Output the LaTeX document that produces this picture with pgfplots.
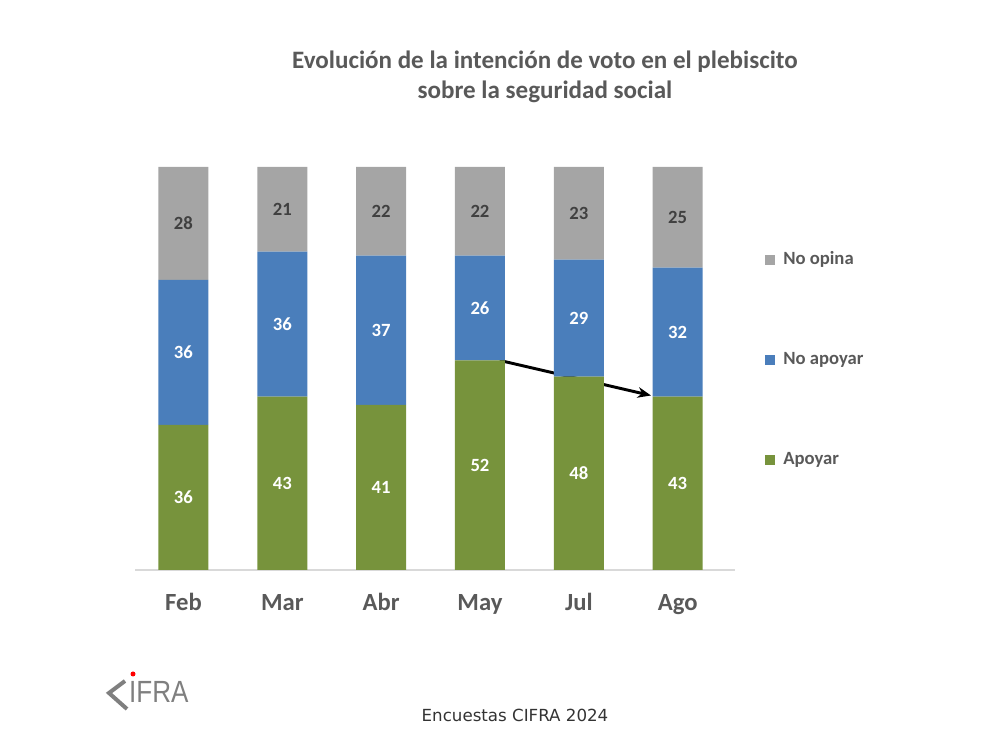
\documentclass[border=0pt]{standalone}
\usepackage{pgfplots}
\pgfplotsset{compat=1.18}
\usepackage{fontspec}
\setmainfont{Carlito}
\newfontfamily\dejavu{DejaVu Sans}
\newfontfamily\libsans{Liberation Sans}
\usetikzlibrary{arrows.meta}
\definecolor{cgray}{HTML}{A5A5A5}
\definecolor{cblue}{HTML}{4A7EBB}
\definecolor{cgreen}{HTML}{77933C}
\definecolor{ctext}{HTML}{595959}
\definecolor{cdark}{HTML}{404040}
\definecolor{clogo}{HTML}{7F7F7F}

\pgfplotsset{
  seglabels/.style={
    nodes near coords={\pgfplotspointmeta},
    point meta=explicit symbolic,
    every node near coord/.append style={anchor=center,
      font=\bfseries\fontsize{14}{16}\selectfont, text=#1}
  }
}

\begin{document}
\begin{tikzpicture}[x=0.75pt,y=0.75pt]
\path[use as bounding box] (0,0) rectangle (1000,752);
\begin{axis}[
  at={(101.25pt,136.5pt)}, anchor=south west,
  scale only axis, width=450pt, height=302.25pt,
  xmin=-0.49, xmax=5.58, ymin=0, ymax=100,
  ybar stacked, bar width=37.5pt,
  axis y line=none, axis x line*=bottom,
  x axis line style={draw=black!15, line width=1pt, -},
  major tick length=0pt,
  xtick={0,1,2,3,4,5},
  xticklabels={Feb,Mar,Abr,May,Jul,Ago},
  xticklabel style={anchor=base, yshift=-30.75pt, font=\bfseries\fontsize{18.5}{20}\selectfont, text=ctext},
  ytick=\empty,
  clip=false,
  reverse legend,
  legend cell align=left,
  legend image code/.code={\fill[#1] (0pt,-3.75pt) rectangle (7.5pt,3.75pt);},
  legend style={at={(1.05,0.522)}, anchor=west, draw=none, fill=none,
    inner sep=0pt, row sep=64pt, column sep=6pt,
    nodes={inner sep=0pt, text height=9pt, text depth=2pt, text=ctext,
      font=\bfseries\fontsize{14}{16}\selectfont}},
]
\addplot[fill=cgreen, draw=none, seglabels=white] coordinates
  {(0,36)[36] (1,43)[43] (2,41)[41] (3,52)[52] (4,48)[48] (5,43)[43]};
\addlegendentry{Apoyar}
\addplot[fill=cblue, draw=none, seglabels=white] coordinates
  {(0,36)[36] (1,36)[36] (2,37)[37] (3,26)[26] (4,29)[29] (5,32)[32]};
\addlegendentry{No apoyar}
\addplot[fill=cgray, draw=none, seglabels=cdark] coordinates
  {(0,28)[28] (1,21)[21] (2,22)[22] (3,22)[22] (4,23)[23] (5,25)[25]};
\addlegendentry{No opina}
\draw[line width=2.2pt, -{Stealth[length=10pt,width=8pt]}] (axis cs:3.2,52) -- (axis cs:4.73,43.3);
\end{axis}
% title
\node[font=\bfseries\fontsize{18.8}{22.5}\selectfont, text=ctext, align=center] at (545,752-77)
  {Evolución de la intención de voto en el plebiscito\\sobre la seguridad social};
% footer
\node[font=\dejavu\fontsize{12.5}{14}\selectfont, text=black!80] at (515,752-715) {Encuestas CIFRA 2024};
% logo
\draw[clogo, line width=3pt, line join=miter] (125,752-681) -- (109,752-693) -- (127,752-709);
\node[font=\libsans\fontsize{23}{24}\selectfont, text=clogo, anchor=base west, xscale=0.85, inner sep=0pt] at (129,752-703) {IFRA};
\fill[red] (133,752-674) circle (2.5);
\end{tikzpicture}
\end{document}
